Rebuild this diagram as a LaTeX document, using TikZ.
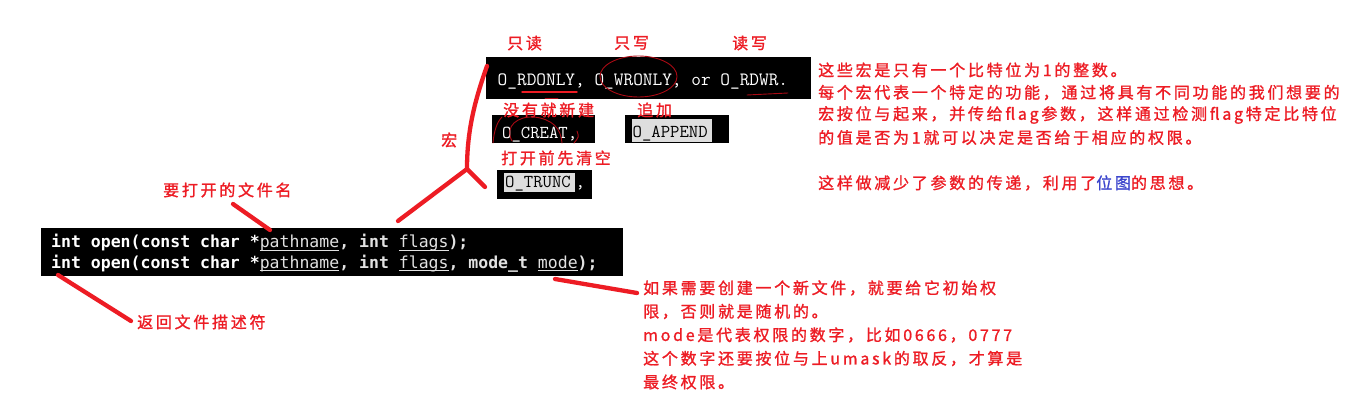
\documentclass[tikz,border=0pt]{standalone}
\usepackage{fontspec}
\newfontfamily\cjk[LetterSpace=17,FakeBold=1.2]{Noto Sans CJK SC}
\newfontfamily\codefont{DejaVu Sans Mono}
\definecolor{pred}{RGB}{237,28,36}
\definecolor{dred}{RGB}{170,10,20}
\definecolor{pblue}{RGB}{60,70,205}
\definecolor{hlgray}{RGB}{222,222,222}
\definecolor{ulgray}{RGB}{225,225,225}
\newcommand\cul[1]{\setbox0\hbox{\mdseries\color{ulgray}#1}\rlap{\color{ulgray}\rule[-2.4pt]{\wd0}{0.9pt}}\box0}
\begin{document}
\begin{tikzpicture}[x=1pt,y=-1pt,
  blackbox/.style={fill=black, draw=none, inner sep=0pt},
  hlbox/.style={fill=hlgray, draw=none, inner sep=0pt},
  redtxt/.style={text=pred, font=\cjk\fontsize{16}{18}\selectfont, inner sep=0pt, anchor=west},
  codetxt/.style={text=white, font=\codefont\bfseries\fontsize{16.5}{20}\selectfont, inner sep=0pt, anchor=base west},
  optxt/.style={font=\ttfamily\fontsize{18.8}{20}\selectfont\addfontfeatures{FakeBold=1.6}, inner sep=0pt, anchor=base west},
  smalloptxt/.style={font=\ttfamily\fontsize{18.2}{20}\selectfont\addfontfeatures{FakeBold=1.6}, inner sep=0pt, anchor=base west},
  redline/.style={draw=pred, line width=4.3pt, line cap=round, line join=round},
  thinred/.style={draw=pred, line width=1.4pt, line cap=round},
  darkred/.style={draw=dred, line width=0.9pt, line cap=round}]
\useasboundingbox[fill=white] (0,0) rectangle (1370,403);

% ---- top macro box ----
\node[blackbox, anchor=north west, minimum width=325, minimum height=42] (rdbox) at (486,57) {};
\node[optxt, text=white] (rdtext) at (497.5,86) {O\_RDONLY, O\_WRONLY, or O\_RDWR.};
\node[redtxt] (lblrd) at (507,43) {只读};
\node[redtxt] (lblwr) at (614,43) {只写};
\node[redtxt] (lblrw) at (732,43) {读写};
\draw[thinred] (522,92) -- (577,92);
\draw[darkred] (545,98) -- (558,98);
\draw[darkred] (638.5,76.5) ellipse [x radius=38.5, y radius=20.5];
\draw[darkred] (747,95) -- (788,93);

% ---- O_CREAT ----
\node[blackbox, anchor=north west, minimum width=103, minimum height=28] (creatbox) at (492,115) {};
\node[smalloptxt, text=white] (creattext) at (502,138.5) {O\_CREAT,};
\node[redtxt] (lblcreat) at (503,110) {没有就新建};
\draw[darkred] (493,143) .. controls (494,131) and (497,122) .. (502,117);
\draw[darkred] (512,141) .. controls (504,126) and (518,116) .. (534,117) .. controls (552,119) and (561,128) .. (562,143);
\draw[darkred] (577,131) .. controls (579,137) .. (574,143);

% ---- O_APPEND ----
\node[blackbox, anchor=north west, minimum width=104, minimum height=28] (appendbox) at (625,115) {};
\node[hlbox, anchor=north west, minimum width=80, minimum height=23] (appendhl) at (632,119) {};
\node[smalloptxt, text=black] (appendtext) at (632.5,138) {O\_APPEND};
\node[redtxt] (lblappend) at (637,110) {追加};

% ---- O_TRUNC ----
\node[blackbox, anchor=north west, minimum width=95, minimum height=29] (truncbox) at (497,170) {};
\node[hlbox, anchor=north west, minimum width=71, minimum height=19] (trunchl) at (503.5,173) {};
\node[smalloptxt, text=black] (trunctext) at (505,188) {O\_TRUNC};
\node[smalloptxt, text=white] (trunccomma) at (575.5,188) {,};
\node[redtxt] (lbltrunc) at (501,158) {打开前先清空};

% ---- macro bracket ----
\node[redtxt] (lblhong) at (441,140) {宏};
\coordinate (hongbottom) at (398,221);
\coordinate (hongjoint) at (467,169);
\coordinate (hongtop) at (487,66);
\coordinate (hongbranch) at (485,187);
\draw[redline] (hongbottom) -- (hongjoint) .. controls (467,130) and (475,100) .. (hongtop);
\draw[redline] (hongjoint) -- (hongbranch);

% ---- code box ----
\node[blackbox, anchor=north west, minimum width=582, minimum height=48] (codebox) at (41,228) {};
\node[codetxt] (code1) at (51,248) {int open(const char *\cul{pathname}, int \cul{flags});};
\node[codetxt] (code2) at (51,269) {int open(const char *\cul{pathname}, int \cul{flags}, mode\_t \cul{mode});};

% ---- pathname annotation ----
\node[redtxt] (lblpath) at (163,190) {要打开的文件名};
\coordinate (pathstart) at (233,204);
\coordinate (pathend) at (270,230);
\draw[redline] (pathstart) -- (pathend);

% ---- return annotation ----
\node[redtxt] (lblret) at (137,322) {返回文件描述符};
\coordinate (retstart) at (58,275);
\coordinate (retend) at (131,321);
\draw[redline] (retstart) -- (retend);

% ---- mode annotation ----
\coordinate (modestart) at (555,279);
\coordinate (modeend) at (637,293);
\draw[redline] (modestart) -- (modeend);
\node[redtxt] (m1) at (643,288) {如果需要创建一个新文件，就要给它初始权};
\node[redtxt] (m2) at (643,311.5) {限，否则就是随机的。};
\node[redtxt] (m3) at (643,335) {mode是代表权限的数字，比如0666，0777};
\node[redtxt] (m4) at (643,358.5) {这个数字还要按位与上umask的取反，才算是};
\node[redtxt] (m5) at (643,382) {最终权限。};

% ---- right explanation ----
\node[redtxt] (r1) at (818,70) {这些宏是只有一个比特位为1的整数。};
\node[redtxt] (r2) at (818,92.5) {每个宏代表一个特定的功能，通过将具有不同功能的我们想要的};
\node[redtxt] (r3) at (818,115) {宏按位与起来，并传给flag参数，这样通过检测flag特定比特位};
\node[redtxt] (r4) at (818,137.5) {的值是否为1就可以决定是否给于相应的权限。};
\node[redtxt] (r5) at (818,183) {这样做减少了参数的传递，利用了{\color{pblue}位图}的思想。};
\end{tikzpicture}
\end{document}
